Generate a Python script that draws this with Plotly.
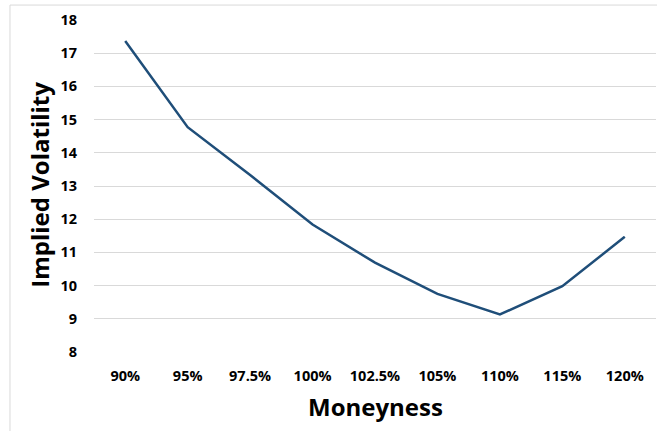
import plotly.graph_objects as go

moneyness = ["90%", "95%", "97.5%", "100%", "102.5%", "105%", "110%", "115%", "120%"]
implied_vol = [17.37, 14.77, 13.33, 11.84, 10.69, 9.75, 9.13, 9.98, 11.47]
y_ticks = [8, 9, 10, 11, 12, 13, 14, 15, 16, 17, 18]

fig = go.Figure()
fig.add_trace(go.Scatter(
    x=moneyness, y=implied_vol, mode="lines",
    line=dict(color="#1f4e79", width=2.5),
))

font_family = "Open Sans, Liberation Sans, sans-serif"
PW = 562.0
PH = 332.5
fig.update_layout(
    width=657, height=431,
    margin=dict(l=94, r=1, t=20, b=78.5),
    paper_bgcolor="white", plot_bgcolor="white",
    showlegend=False,
    font=dict(family=font_family, color="black"),
    xaxis=dict(
        type="category", range=[-0.5, len(moneyness) - 0.5],
        showgrid=False, showline=False, zeroline=False,
        ticks="", tickfont=dict(size=14.5, family=font_family, weight="bold"),
        ticklabelstandoff=13,
        automargin=False,
    ),
    yaxis=dict(
        range=[8, 18], tickvals=y_ticks, showgrid=True, gridcolor="#d9d9d9",
        gridwidth=1, zeroline=False, showline=False, ticks="",
        tickfont=dict(size=14.5, family=font_family, weight="bold"),
        ticklabelstandoff=16,
        automargin=False,
    ),
    annotations=[
        dict(text="<b>Moneyness</b>", xref="paper", yref="paper",
             x=(375 - 94) / PW, y=1 - (407 - 20) / PH, showarrow=False,
             xanchor="center", yanchor="middle", font=dict(size=24)),
        dict(text="<b>Implied Volatility</b>", xref="paper", yref="paper",
             x=(40 - 94) / PW, y=1 - (185 - 20) / PH, showarrow=False,
             xanchor="center", yanchor="middle", textangle=-90, font=dict(size=24)),
    ],
    shapes=[dict(type="rect", xref="paper", yref="paper",
                 x0=-0.1495, x1=1.05, y0=-0.35, y1=1.045,
                 line=dict(color="#d9d9d9", width=1), fillcolor="rgba(0,0,0,0)")],
)

fig.write_html("out.html")
